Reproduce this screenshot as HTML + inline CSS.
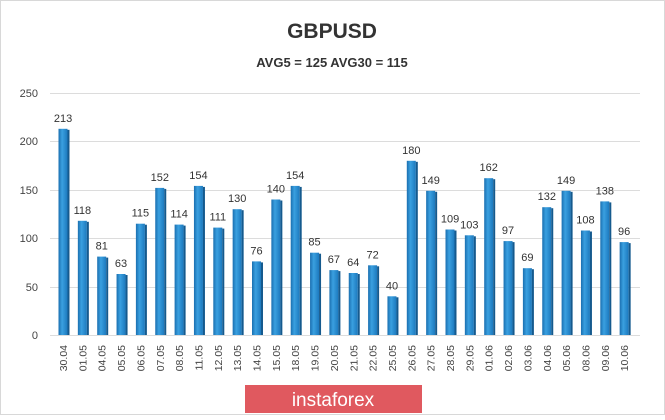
<!DOCTYPE html>
<html><head><style>
body{margin:0;background:#fff;}
svg text{font-family:"Liberation Sans",sans-serif;}
.v{font-size:11px;fill:#333;text-anchor:middle;}
.d{font-size:10.5px;fill:#444;text-anchor:end;}
.b{fill:url(#g);}
.s{fill:#155a8e;}
</style></head><body>
<svg width="665" height="415" xmlns="http://www.w3.org/2000/svg">
<defs>
<linearGradient id="g" x1="0" x2="1" y1="0" y2="0">
<stop offset="0" stop-color="#1a6fb0"/><stop offset="0.4" stop-color="#3aa0e0"/><stop offset="1" stop-color="#1c79be"/>
</linearGradient>
</defs>
<rect x="0.5" y="0.5" width="664" height="414" fill="#fff" stroke="#d8d8d8"/>
<text x="332" y="38" text-anchor="middle" font-size="21" font-weight="bold" fill="#333">GBPUSD</text>
<text x="332" y="67" text-anchor="middle" font-size="13" font-weight="bold" fill="#333">AVG5 = 125 AVG30 = 115</text>
<g stroke="#dcdcdc" stroke-width="1">
<line x1="50" x2="640" y1="93.5" y2="93.5"/><line x1="50" x2="640" y1="141.5" y2="141.5"/>
<line x1="50" x2="640" y1="190.5" y2="190.5"/><line x1="50" x2="640" y1="238.5" y2="238.5"/>
<line x1="50" x2="640" y1="287.5" y2="287.5"/><line x1="50" x2="640" y1="335.5" y2="335.5"/>
</g>
<g font-size="11" fill="#444" text-anchor="end">
<text x="38" y="97">250</text><text x="38" y="145">200</text><text x="38" y="194">150</text>
<text x="38" y="242">100</text><text x="38" y="291">50</text><text x="38" y="339">0</text>
</g>
<g transform="translate(63,0)"><rect class="b" x="-4.5" y="128.8" width="9" height="206.2"/><rect class="s" x="4.5" y="129.8" width="2" height="205.2"/><text class="v" x="0" y="121.8">213</text><text class="d" transform="translate(4,345) rotate(-90)">30.04</text></g>
<g transform="translate(82.35,0)"><rect class="b" x="-4.5" y="220.8" width="9" height="114.2"/><rect class="s" x="4.5" y="221.8" width="2" height="113.2"/><text class="v" x="0" y="213.8">118</text><text class="d" transform="translate(4,345) rotate(-90)">01.05</text></g>
<g transform="translate(101.7,0)"><rect class="b" x="-4.5" y="256.6" width="9" height="78.4"/><rect class="s" x="4.5" y="257.6" width="2" height="77.4"/><text class="v" x="0" y="249.6">81</text><text class="d" transform="translate(4,345) rotate(-90)">04.05</text></g>
<g transform="translate(121.05,0)"><rect class="b" x="-4.5" y="274" width="9" height="61"/><rect class="s" x="4.5" y="275" width="2" height="60"/><text class="v" x="0" y="267">63</text><text class="d" transform="translate(4,345) rotate(-90)">05.05</text></g>
<g transform="translate(140.4,0)"><rect class="b" x="-4.5" y="223.7" width="9" height="111.3"/><rect class="s" x="4.5" y="224.7" width="2" height="110.3"/><text class="v" x="0" y="216.7">115</text><text class="d" transform="translate(4,345) rotate(-90)">06.05</text></g>
<g transform="translate(159.75,0)"><rect class="b" x="-4.5" y="187.9" width="9" height="147.1"/><rect class="s" x="4.5" y="188.9" width="2" height="146.1"/><text class="v" x="0" y="180.9">152</text><text class="d" transform="translate(4,345) rotate(-90)">07.05</text></g>
<g transform="translate(179.1,0)"><rect class="b" x="-4.5" y="224.6" width="9" height="110.4"/><rect class="s" x="4.5" y="225.6" width="2" height="109.4"/><text class="v" x="0" y="217.6">114</text><text class="d" transform="translate(4,345) rotate(-90)">08.05</text></g>
<g transform="translate(198.45,0)"><rect class="b" x="-4.5" y="185.9" width="9" height="149.1"/><rect class="s" x="4.5" y="186.9" width="2" height="148.1"/><text class="v" x="0" y="178.9">154</text><text class="d" transform="translate(4,345) rotate(-90)">11.05</text></g>
<g transform="translate(217.8,0)"><rect class="b" x="-4.5" y="227.6" width="9" height="107.4"/><rect class="s" x="4.5" y="228.6" width="2" height="106.4"/><text class="v" x="0" y="220.6">111</text><text class="d" transform="translate(4,345) rotate(-90)">12.05</text></g>
<g transform="translate(237.15,0)"><rect class="b" x="-4.5" y="209.2" width="9" height="125.8"/><rect class="s" x="4.5" y="210.2" width="2" height="124.8"/><text class="v" x="0" y="202.2">130</text><text class="d" transform="translate(4,345) rotate(-90)">13.05</text></g>
<g transform="translate(256.5,0)"><rect class="b" x="-4.5" y="261.4" width="9" height="73.6"/><rect class="s" x="4.5" y="262.4" width="2" height="72.6"/><text class="v" x="0" y="254.4">76</text><text class="d" transform="translate(4,345) rotate(-90)">14.05</text></g>
<g transform="translate(275.85,0)"><rect class="b" x="-4.5" y="199.5" width="9" height="135.5"/><rect class="s" x="4.5" y="200.5" width="2" height="134.5"/><text class="v" x="0" y="192.5">140</text><text class="d" transform="translate(4,345) rotate(-90)">15.05</text></g>
<g transform="translate(295.2,0)"><rect class="b" x="-4.5" y="185.9" width="9" height="149.1"/><rect class="s" x="4.5" y="186.9" width="2" height="148.1"/><text class="v" x="0" y="178.9">154</text><text class="d" transform="translate(4,345) rotate(-90)">18.05</text></g>
<g transform="translate(314.55,0)"><rect class="b" x="-4.5" y="252.7" width="9" height="82.3"/><rect class="s" x="4.5" y="253.7" width="2" height="81.3"/><text class="v" x="0" y="245.7">85</text><text class="d" transform="translate(4,345) rotate(-90)">19.05</text></g>
<g transform="translate(333.9,0)"><rect class="b" x="-4.5" y="270.1" width="9" height="64.9"/><rect class="s" x="4.5" y="271.1" width="2" height="63.9"/><text class="v" x="0" y="263.1">67</text><text class="d" transform="translate(4,345) rotate(-90)">20.05</text></g>
<g transform="translate(353.25,0)"><rect class="b" x="-4.5" y="273" width="9" height="62"/><rect class="s" x="4.5" y="274" width="2" height="61"/><text class="v" x="0" y="266">64</text><text class="d" transform="translate(4,345) rotate(-90)">21.05</text></g>
<g transform="translate(372.6,0)"><rect class="b" x="-4.5" y="265.3" width="9" height="69.7"/><rect class="s" x="4.5" y="266.3" width="2" height="68.7"/><text class="v" x="0" y="258.3">72</text><text class="d" transform="translate(4,345) rotate(-90)">22.05</text></g>
<g transform="translate(391.95,0)"><rect class="b" x="-4.5" y="296.3" width="9" height="38.7"/><rect class="s" x="4.5" y="297.3" width="2" height="37.7"/><text class="v" x="0" y="289.3">40</text><text class="d" transform="translate(4,345) rotate(-90)">25.05</text></g>
<g transform="translate(411.3,0)"><rect class="b" x="-4.5" y="160.8" width="9" height="174.2"/><rect class="s" x="4.5" y="161.8" width="2" height="173.2"/><text class="v" x="0" y="153.8">180</text><text class="d" transform="translate(4,345) rotate(-90)">26.05</text></g>
<g transform="translate(430.65,0)"><rect class="b" x="-4.5" y="190.8" width="9" height="144.2"/><rect class="s" x="4.5" y="191.8" width="2" height="143.2"/><text class="v" x="0" y="183.8">149</text><text class="d" transform="translate(4,345) rotate(-90)">27.05</text></g>
<g transform="translate(450,0)"><rect class="b" x="-4.5" y="229.5" width="9" height="105.5"/><rect class="s" x="4.5" y="230.5" width="2" height="104.5"/><text class="v" x="0" y="222.5">109</text><text class="d" transform="translate(4,345) rotate(-90)">28.05</text></g>
<g transform="translate(469.35,0)"><rect class="b" x="-4.5" y="235.3" width="9" height="99.7"/><rect class="s" x="4.5" y="236.3" width="2" height="98.7"/><text class="v" x="0" y="228.3">103</text><text class="d" transform="translate(4,345) rotate(-90)">29.05</text></g>
<g transform="translate(488.7,0)"><rect class="b" x="-4.5" y="178.2" width="9" height="156.8"/><rect class="s" x="4.5" y="179.2" width="2" height="155.8"/><text class="v" x="0" y="171.2">162</text><text class="d" transform="translate(4,345) rotate(-90)">01.06</text></g>
<g transform="translate(508.05,0)"><rect class="b" x="-4.5" y="241.1" width="9" height="93.9"/><rect class="s" x="4.5" y="242.1" width="2" height="92.9"/><text class="v" x="0" y="234.1">97</text><text class="d" transform="translate(4,345) rotate(-90)">02.06</text></g>
<g transform="translate(527.4,0)"><rect class="b" x="-4.5" y="268.2" width="9" height="66.8"/><rect class="s" x="4.5" y="269.2" width="2" height="65.8"/><text class="v" x="0" y="261.2">69</text><text class="d" transform="translate(4,345) rotate(-90)">03.06</text></g>
<g transform="translate(546.75,0)"><rect class="b" x="-4.5" y="207.2" width="9" height="127.8"/><rect class="s" x="4.5" y="208.2" width="2" height="126.8"/><text class="v" x="0" y="200.2">132</text><text class="d" transform="translate(4,345) rotate(-90)">04.06</text></g>
<g transform="translate(566.1,0)"><rect class="b" x="-4.5" y="190.8" width="9" height="144.2"/><rect class="s" x="4.5" y="191.8" width="2" height="143.2"/><text class="v" x="0" y="183.8">149</text><text class="d" transform="translate(4,345) rotate(-90)">05.06</text></g>
<g transform="translate(585.45,0)"><rect class="b" x="-4.5" y="230.5" width="9" height="104.5"/><rect class="s" x="4.5" y="231.5" width="2" height="103.5"/><text class="v" x="0" y="223.5">108</text><text class="d" transform="translate(4,345) rotate(-90)">08.06</text></g>
<g transform="translate(604.8,0)"><rect class="b" x="-4.5" y="201.4" width="9" height="133.6"/><rect class="s" x="4.5" y="202.4" width="2" height="132.6"/><text class="v" x="0" y="194.4">138</text><text class="d" transform="translate(4,345) rotate(-90)">09.06</text></g>
<g transform="translate(624.15,0)"><rect class="b" x="-4.5" y="242.1" width="9" height="92.9"/><rect class="s" x="4.5" y="243.1" width="2" height="91.9"/><text class="v" x="0" y="235.1">96</text><text class="d" transform="translate(4,345) rotate(-90)">10.06</text></g>
<rect x="245" y="385" width="177" height="28" fill="#e0595f"/>
<text x="333" y="406" text-anchor="middle" font-size="19" fill="#fff">instaforex</text>
</svg>
</body></html>
